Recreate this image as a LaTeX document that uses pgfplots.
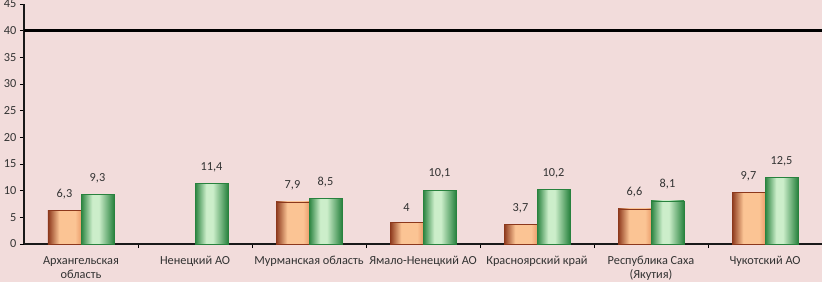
\documentclass[border=0pt]{standalone}
\usepackage{fontspec}
\setmainfont{Carlito}
\usepackage{pgfplots}
\pgfplotsset{compat=1.18}
\definecolor{bg}{RGB}{242,220,219}
\definecolor{od}{RGB}{140,56,28}
\definecolor{ol}{RGB}{251,196,148}
\definecolor{om}{RGB}{236,160,110}
\definecolor{gd}{RGB}{40,130,62}
\definecolor{gl}{RGB}{204,238,202}
\definecolor{txt}{RGB}{50,50,50}
\pgfdeclarehorizontalshading{orangebar}{100bp}{color(0bp)=(od); color(25bp)=(od); color(42bp)=(ol); color(66bp)=(ol); color(75bp)=(om); color(100bp)=(om)}
\pgfdeclarehorizontalshading{greenbar}{100bp}{color(0bp)=(gd); color(25bp)=(gd); color(42bp)=(gl); color(52bp)=(gl); color(75bp)=(gd); color(100bp)=(gd)}
\begin{document}
\begin{tikzpicture}
\fill[bg] (-24pt,-38pt) rectangle (798pt,244pt);
\begin{axis}[
  at={(0pt,0pt)}, anchor=south west,
  scale only axis, width=798pt, height=240pt,
  xmin=-0.5, xmax=6.5, ymin=0, ymax=45,
  ytick={0,5,...,45},
  xtick={0,...,6},
  xticklabels={{Архангельская\\область},{Ненецкий АО},{Мурманская область},{Ямало-Ненецкий АО},{Красноярский край},{Республика Саха\\(Якутия)},{Чукотский АО}},
  minor xtick={0.5,1.5,...,6.5},
  axis x line*=bottom, axis y line*=left,
  axis line style={line width=1.6pt, color=black!90},
  tick align=outside,
  major x tick style={draw=none},
  minor x tick style={line width=1pt, black},
  minor tick length=4pt,
  y tick style={line width=1pt, black},
  major tick length=4pt,
  tick label style={font=\fontsize{12.3}{14}\selectfont, text=txt},
  xticklabel style={align=center, yshift=-5pt},
  /pgf/number format/assume math mode=true,
  /pgf/number format/use comma,
  ob/.style={ybar, bar width=33pt, bar shift=-16.5pt, shading=orangebar, draw=od, line width=0.5pt, nodes near coords,
    every node near coord/.append style={font=\fontsize{12.3}{14}\selectfont, text=txt, yshift=8pt, xshift=-16.5pt}},
  gb/.style={ybar, bar width=33pt, bar shift=16.5pt, shading=greenbar, draw=gd, line width=0.5pt, nodes near coords,
    every node near coord/.append style={font=\fontsize{12.3}{14}\selectfont, text=txt, yshift=8pt, xshift=16.5pt}},
  clip=false,
]
% orange series
\addplot[ob] coordinates {(0,6.3)};
\addplot[ob] coordinates {(2,7.9)};
\addplot[ob] coordinates {(3,4)};
\addplot[ob] coordinates {(4,3.7)};
\addplot[ob] coordinates {(5,6.6)};
\addplot[ob] coordinates {(6,9.7)};
% green series
\addplot[gb] coordinates {(0,9.3)};
\addplot[gb] coordinates {(1,11.4)};
\addplot[gb] coordinates {(2,8.5)};
\addplot[gb] coordinates {(3,10.1)};
\addplot[gb] coordinates {(4,10.2)};
\addplot[gb] coordinates {(5,8.1)};
\addplot[gb] coordinates {(6,12.5)};
% reference line
\addplot[sharp plot, line width=3.5pt, black, forget plot] coordinates {(-0.5,40) (6.5,40)};
\end{axis}
\pgfresetboundingbox
\path (-24pt,-38pt) rectangle (798pt,244pt);
\end{tikzpicture}
\end{document}
